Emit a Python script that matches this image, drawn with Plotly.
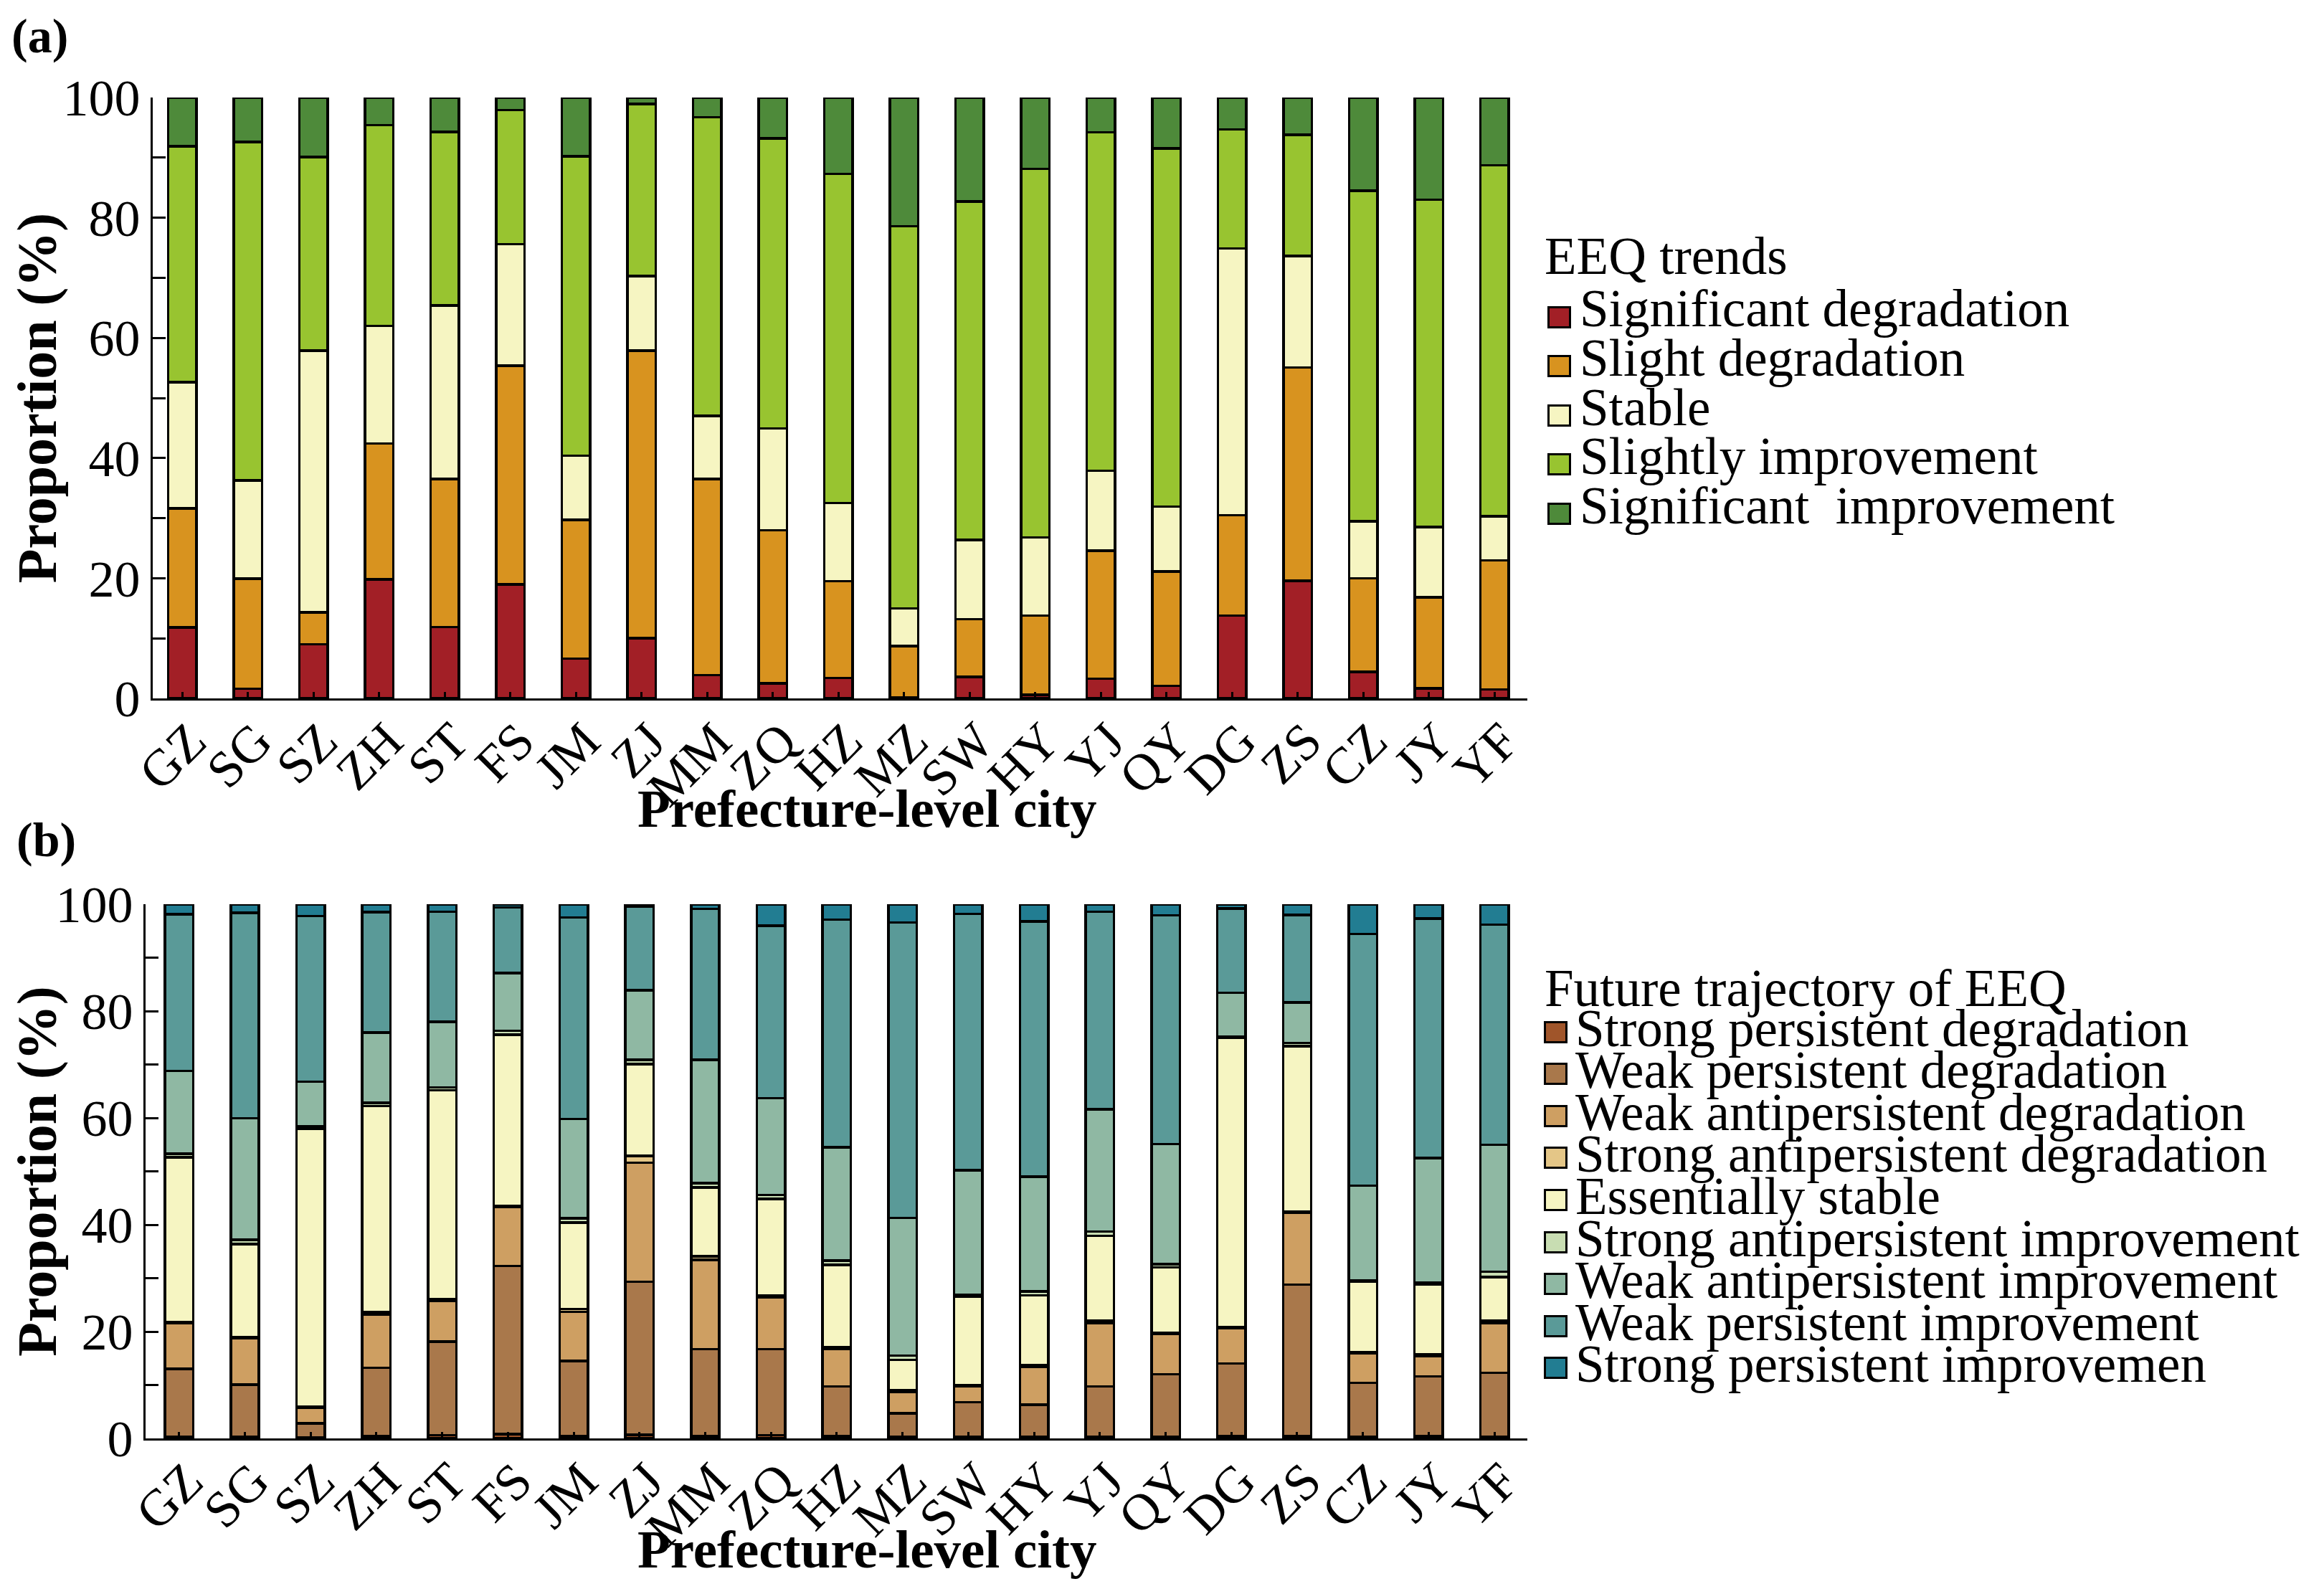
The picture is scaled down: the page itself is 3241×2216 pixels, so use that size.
import plotly.graph_objects as go

# cities on the x axis
cities = ['GZ', 'SG', 'SZ', 'ZH', 'ST', 'FS', 'JM', 'ZJ', 'MM', 'ZQ', 'HZ',
          'MZ', 'SW', 'HY', 'YJ', 'QY', 'DG', 'ZS', 'CZ', 'JY', 'YF']

# (a) EEQ trends, proportion (%) per city
significant_degradation = [11.8, 1.6, 9.0, 19.8, 11.9, 19.0, 6.6, 10.0, 3.9, 2.5, 3.4,
                           0.2, 3.6, 0.6, 3.3, 2.1, 13.8, 19.6, 4.4, 1.7, 1.5]
slight_degradation = [19.8, 18.3, 5.3, 22.6, 24.6, 36.4, 23.1, 47.9, 32.6, 25.5, 16.1,
                      8.5, 9.6, 13.2, 21.3, 19.0, 16.7, 35.5, 15.6, 15.1, 21.5]
stable = [21.0, 16.4, 43.6, 19.6, 28.9, 20.2, 10.7, 12.4, 10.5, 16.9, 13.0,
          6.3, 13.2, 13.0, 13.3, 10.8, 44.4, 18.5, 9.5, 11.7, 7.3]
slightly_improvement = [39.3, 56.3, 32.2, 33.4, 28.9, 22.3, 49.8, 28.6, 49.7, 48.3, 54.8,
                        63.6, 56.3, 61.3, 56.3, 59.6, 19.8, 20.2, 55.0, 54.5, 58.4]
significant_improvement = [8.1, 7.4, 9.9, 4.6, 5.7, 2.1, 9.8, 1.1, 3.3, 6.8, 12.7,
                           21.4, 17.3, 11.9, 5.8, 8.5, 5.3, 6.2, 15.5, 17.0, 11.3]

trend_names = ['Significant degradation', 'Slight degradation', 'Stable',
               'Slightly improvement', 'Significant  improvement']
trend_values = [significant_degradation, slight_degradation, stable,
                slightly_improvement, significant_improvement]
trend_colors = ['#A21F26', '#D8931F', '#F6F5C2', '#98C430', '#4E8A3A']

# (b) future trajectory of EEQ, proportion (%) per city
strong_pers_deg = [0.3, 0.3, 0.2, 0.5, 0.6, 0.8, 0.4, 0.7, 0.4, 0.6, 0.4,
                   0.3, 0.3, 0.3, 0.3, 0.3, 0.5, 0.5, 0.3, 0.5, 0.3]
weak_pers_deg = [12.7, 9.8, 2.6, 12.7, 17.5, 31.5, 14.1, 28.6, 16.3, 16.1, 9.3,
                 4.4, 6.5, 6.0, 9.4, 11.7, 13.5, 28.3, 10.1, 11.1, 12.0]
weak_anti_deg = [8.6, 8.6, 3.0, 10.0, 7.7, 11.0, 9.2, 22.3, 16.7, 9.7, 7.1,
                 4.0, 2.9, 7.1, 11.9, 7.6, 6.7, 13.4, 5.6, 3.8, 9.3]
strong_anti_deg = [0.2, 0.3, 0.2, 0.4, 0.3, 0.2, 0.5, 1.3, 0.7, 0.3, 0.3,
                   0.3, 0.3, 0.3, 0.5, 0.2, 0.2, 0.2, 0.2, 0.3, 0.4]
essentially_stable = [30.8, 17.4, 52.0, 38.6, 39.1, 32.1, 16.2, 17.2, 12.9, 18.1, 15.4,
                      5.7, 16.6, 13.1, 15.8, 12.2, 54.1, 31.0, 13.1, 13.1, 8.2]
strong_anti_imp = [0.7, 0.8, 0.4, 0.6, 0.5, 0.7, 0.8, 0.8, 0.8, 0.8, 0.8,
                   0.8, 0.3, 0.7, 0.8, 0.6, 0.2, 0.6, 0.3, 0.3, 1.0]
weak_anti_imp = [15.5, 22.7, 8.4, 13.2, 12.3, 10.8, 18.6, 13.0, 23.1, 18.1, 21.2,
                 25.8, 23.3, 21.5, 22.9, 22.5, 8.2, 7.6, 17.7, 23.4, 23.8]
weak_pers_imp = [29.3, 38.5, 31.0, 22.5, 20.6, 12.3, 37.7, 15.7, 28.2, 32.3, 42.6,
                 55.3, 48.0, 47.8, 37.0, 42.8, 15.8, 16.4, 47.1, 44.8, 41.2]
strong_pers_imp = [1.9, 1.6, 2.2, 1.5, 1.4, 0.6, 2.5, 0.4, 0.9, 4.0, 2.9,
                   3.4, 1.8, 3.2, 1.4, 2.1, 0.8, 2.0, 5.6, 2.7, 3.8]

traj_names = ['Strong persistent degradation', 'Weak persistent degradation',
              'Weak antipersistent degradation', 'Strong antipersistent degradation',
              'Essentially stable', 'Strong antipersistent improvement',
              'Weak antipersistent improvement', 'Weak persistent improvement',
              'Strong persistent improvemen']
traj_values = [strong_pers_deg, weak_pers_deg, weak_anti_deg, strong_anti_deg,
               essentially_stable, strong_anti_imp, weak_anti_imp, weak_pers_imp,
               strong_pers_imp]
traj_colors = ['#A0552A', '#A9784B', '#CE9F62', '#E4C687', '#F6F5C2',
               '#C8DDB2', '#8FB8A3', '#5A9A98', '#227D92']

FONT = 'Times New Roman, Liberation Serif, serif'
# page body has an 8px margin, so the figure is 16px smaller than the window
W, H = 3241 - 16, 2216 - 16
L, R, T, B = 195, 1103, 128, 202
pw = W - L - R
ph = H - T - B


def px_x(v):
    # window pixel -> paper x
    return (v - 8 - L) / pw


def px_y(v):
    # window pixel -> paper y
    return (H - B - (v - 8)) / ph


fig = go.Figure()

for name, vals, col in zip(trend_names, trend_values, trend_colors):
    fig.add_trace(go.Bar(x=cities, y=vals, name=name, marker_color=col,
                         marker_line=dict(color='black', width=3.5),
                         xaxis='x', yaxis='y', showlegend=False))

for name, vals, col in zip(traj_names, traj_values, traj_colors):
    fig.add_trace(go.Bar(x=cities, y=vals, name=name, marker_color=col,
                         marker_line=dict(color='black', width=3.5),
                         xaxis='x2', yaxis='y2', showlegend=False))

xax = dict(showline=True, linecolor='black', linewidth=3, ticks='inside',
           ticklen=9, tickwidth=3, tickcolor='black', tickangle=-45,
           ticklabelstandoff=-15, ticklabelshift=12,
           tickfont=dict(family=FONT, size=72, color='black'),
           showgrid=False, zeroline=False, automargin=False)
yax = dict(range=[0, 100], tickvals=[0, 20, 40, 60, 80, 100], showline=True,
           linecolor='black', linewidth=3, ticks='inside', ticklen=18, tickwidth=3,
           tickcolor='black', minor=dict(dtick=10, ticks='inside', ticklen=18,
                                         tickwidth=3, tickcolor='black'),
           tickfont=dict(family=FONT, size=72, color='black'),
           title=dict(text='Proportion (%)',
                      font=dict(family=FONT, size=78, color='black', weight='bold'),
                      standoff=0),
           showgrid=False, zeroline=False, automargin=False)

fig.update_layout(
    width=W, height=H,
    margin=dict(l=L, r=R, t=T, b=B),
    paper_bgcolor='white', plot_bgcolor='white',
    barmode='stack', bargap=0.57,
    font=dict(family=FONT, color='black'),
    xaxis=dict(xax, domain=[px_x(213), 1], range=[-0.45, 20.5], anchor='y'),
    yaxis=dict(yax, domain=[px_y(974), px_y(136)], anchor='x'),
    xaxis2=dict(xax, domain=[0, 1], range=[-0.51, 20.5], anchor='y2'),
    yaxis2=dict(yax, domain=[0, px_y(1261)], anchor='x2'),
)

ann = []
# panel letters
for letter, lx, ly in [('(a)', 14, 50), ('(b)', 21, 1171)]:
    ann.append(dict(text=letter, x=px_x(lx), y=px_y(ly), xref='paper', yref='paper',
                    xanchor='left', yanchor='middle', showarrow=False,
                    font=dict(family=FONT, size=68, color='black', weight='bold')))

# x axis titles
for ty in [1127, 2160]:
    ann.append(dict(text='Prefecture-level city', x=px_x(1209), y=px_y(ty),
                    xref='paper', yref='paper', xanchor='center', yanchor='middle',
                    showarrow=False,
                    font=dict(family=FONT, size=75, color='black', weight='bold')))


def add_legend(title, names, colors, title_y, y0, dy, sw_x, text_x, sw_off):
    ann.append(dict(text=title, x=px_x(2152), y=px_y(title_y), xref='paper',
                    yref='paper', xanchor='left', yanchor='middle', showarrow=False,
                    font=dict(family=FONT, size=73, color='black')))
    for i, (nm, col) in enumerate(zip(names, colors)):
        yc = y0 + i * dy
        ann.append(dict(text='', x=px_x(sw_x), y=px_y(yc + sw_off), xref='paper',
                        yref='paper', xanchor='center', yanchor='middle',
                        showarrow=False, width=27, height=25, borderpad=0,
                        bgcolor=col, bordercolor='black', borderwidth=3))
        ann.append(dict(text=nm, x=px_x(text_x), y=px_y(yc), xref='paper',
                        yref='paper', xanchor='left', yanchor='middle',
                        showarrow=False,
                        font=dict(family=FONT, size=73, color='black')))


add_legend('EEQ trends', trend_names, trend_colors, 357, 431, 68.6, 2174, 2201, 11)
add_legend('Future trajectory of EEQ', traj_names, traj_colors, 1378, 1434, 58.6,
           2169, 2195, 5)

fig.update_layout(annotations=ann)

fig.write_html('out.html')
